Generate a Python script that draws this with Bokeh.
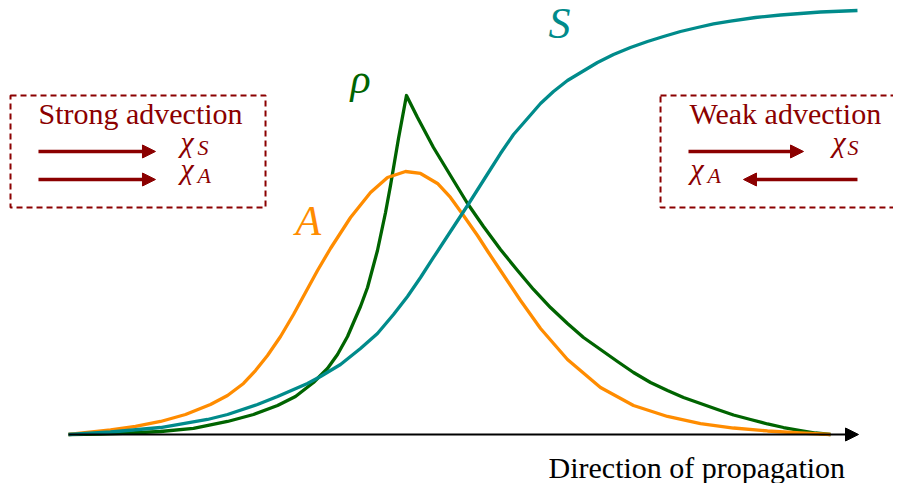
from bokeh.plotting import figure
from bokeh.models import Range1d, Label, Arrow, NormalHead
from bokeh.embed import file_html
from bokeh.resources import INLINE

# ---- values (propagation coordinate 0..10, level 0..1) ----
a_x = [0, 0.532, 0.848, 1.165, 1.481, 1.797, 2.013, 2.215, 2.367, 2.519,
       2.684, 2.848, 3.000, 3.152, 3.316, 3.570, 3.823, 4.038, 4.266, 4.456,
       4.671, 4.835, 5.000, 5.177, 5.316, 5.468, 5.722, 5.975, 6.316, 6.734,
       7.152, 7.582, 8.000, 8.418, 8.848, 9.266, 9.646]
a_y = [0, 0.0106, 0.0189, 0.0307, 0.0472, 0.0708, 0.0920, 0.1203, 0.1509, 0.1863,
       0.2311, 0.2830, 0.3349, 0.3868, 0.4387, 0.5118, 0.5708, 0.6061, 0.6203, 0.6156,
       0.5920, 0.5590, 0.5165, 0.4693, 0.4292, 0.3868, 0.3160, 0.2500, 0.1769, 0.1108,
       0.0684, 0.0425, 0.0259, 0.0153, 0.0083, 0.0035, 0]

rho_x = [0, 0.405, 0.785, 1.165, 1.582, 2.013, 2.342, 2.646, 2.873, 3.101,
         3.278, 3.405, 3.532, 3.608, 3.696, 3.785, 3.911, 4.013, 4.076, 4.177,
         4.278, 4.418, 4.620, 4.835, 5.051, 5.253, 5.468, 5.684, 5.886, 6.101,
         6.316, 6.519, 6.734, 6.949, 7.152, 7.367, 7.582, 7.785, 8.000, 8.215,
         8.418, 8.633, 8.848, 9.051, 9.266, 9.456, 9.646]
rho_y = [0, 0.0012, 0.0035, 0.0071, 0.0142, 0.0307, 0.0472, 0.0684, 0.0896, 0.1226,
         0.1557, 0.1887, 0.2311, 0.2642, 0.3019, 0.3467, 0.4340, 0.5236, 0.5873, 0.6981,
         0.7995, 0.7476, 0.6769, 0.6108, 0.5448, 0.4906, 0.4363, 0.3868, 0.3420, 0.2995,
         0.2618, 0.2288, 0.2005, 0.1722, 0.1462, 0.1226, 0.1038, 0.0873, 0.0731, 0.0590,
         0.0460, 0.0354, 0.0248, 0.0165, 0.0094, 0.0035, 0]

s_x = [0, 0.532, 1.165, 1.759, 2.013, 2.392, 2.646, 3.025, 3.190, 3.443,
       3.696, 3.911, 4.114, 4.291, 4.456, 4.620, 4.835, 5.051, 5.316, 5.468,
       5.633, 5.810, 5.975, 6.139, 6.316, 6.506, 6.696, 6.899, 7.114, 7.329,
       7.532, 7.747, 7.962, 8.165, 8.380, 8.696, 9.013, 9.519, 9.987]
s_y = [0, 0.0059, 0.0165, 0.0354, 0.0472, 0.0708, 0.0896, 0.1203, 0.1368, 0.1651,
       0.2028, 0.2382, 0.2830, 0.3255, 0.3703, 0.4175, 0.4788, 0.5401, 0.6179, 0.6627,
       0.7075, 0.7453, 0.7807, 0.8090, 0.8349, 0.8561, 0.8774, 0.8962, 0.9127, 0.9269,
       0.9387, 0.9505, 0.9599, 0.9682, 0.9752, 0.9835, 0.9894, 0.9965, 1.0]

axis_end = 10.0

TEAL = "#008b8b"
GREEN = "#006400"
ORANGE = "#ff8c00"
RED = "#8b0000"
SERIF = "Liberation Serif"

p = figure(width=893, height=483, output_backend="svg", toolbar_location=None,
           x_range=Range1d(-0.86076, 10.4430), y_range=Range1d(-0.11557, 1.02358),
           x_axis_type=None, y_axis_type=None, min_border=0)
p.grid.visible = False
p.outline_line_color = None
p.background_fill_color = "white"
p.border_fill_color = "white"

# horizontal propagation axis
p.add_layout(Arrow(x_start=0, y_start=0, x_end=axis_end, y_end=0, line_width=2,
                   line_color="black",
                   end=NormalHead(size=13, fill_color="black", line_color="black")))

# curves
p.line(rho_x, rho_y, line_color=GREEN, line_width=3.3, line_join="round")
p.line(a_x, a_y, line_color=ORANGE, line_width=3.3, line_join="round")
p.line(s_x, s_y, line_color=TEAL, line_width=3.3, line_join="round")

# dashed boxes
p.quad(left=[-0.734, 7.494], right=[2.494, 11.5], top=[0.7995, 0.7995],
       bottom=[0.5354, 0.5354], fill_alpha=0, line_color=RED, line_width=2,
       line_dash="6 4")

def lab(x, y, t, size, color, style="normal"):
    p.add_layout(Label(x=x, y=y, text=t, text_font=SERIF, text_font_size=size,
                       text_color=color, text_font_style=style,
                       text_align="left", text_baseline="alphabetic"))

def arrow(x0, x1, y):
    p.add_layout(Arrow(x_start=x0, y_start=y, x_end=x1, y_end=y, line_width=3.5,
                       line_color=RED,
                       end=NormalHead(size=13, fill_color=RED, line_color=RED)))

# curve labels
lab(6.076, 0.9703, "S", "44px", TEAL, "italic")
lab(3.570, 0.8389, "ρ", "42px", GREEN, "italic")
lab(2.873, 0.5040, "A", "42px", ORANGE, "italic")

# left box
lab(-0.380, 0.7571, "Strong advection", "30px", RED)
arrow(-0.380, 1.101, 0.6675)
arrow(-0.380, 1.101, 0.6014)
lab(1.418, 0.6922, "χ", "30px", RED, "italic")
lab(1.633, 0.6762, "S", "22px", RED, "italic")
lab(1.418, 0.6285, "χ", "30px", RED, "italic")
lab(1.633, 0.6101, "A", "22px", RED, "italic")

# right box
lab(7.861, 0.7571, "Weak advection", "30px", RED)
arrow(7.848, 9.304, 0.6675)
arrow(9.987, 8.544, 0.6014)
lab(9.671, 0.6922, "χ", "30px", RED, "italic")
lab(9.861, 0.6762, "S", "22px", RED, "italic")
lab(7.873, 0.6285, "χ", "30px", RED, "italic")
lab(8.089, 0.6101, "A", "22px", RED, "italic")

# axis caption
lab(6.076, -0.0767, "Direction of propagation", "30px", "black")

open("out.html", "w").write(file_html(p, INLINE))
